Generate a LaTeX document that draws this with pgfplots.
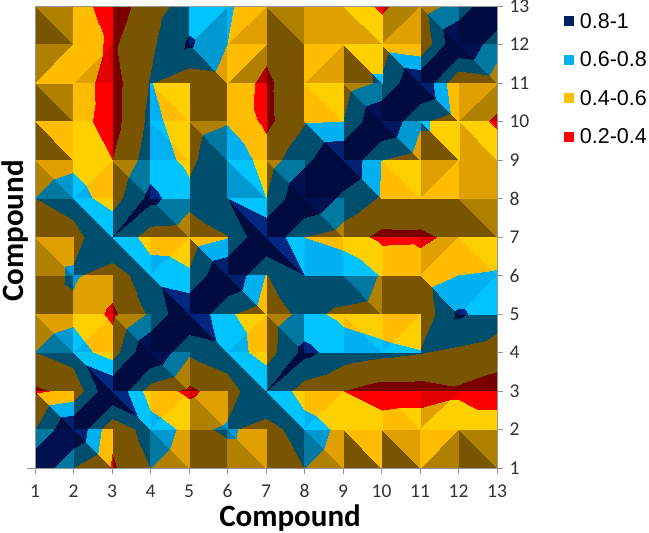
\documentclass[border=0pt]{standalone}
\usepackage{fontspec}
\usepackage{pgfplots}
\pgfplotsset{compat=1.18}
\setmainfont{Carlito}
\newfontfamily\arialf{Liberation Sans}
% ---- similarity matrix: \zrow{row}{values for compound 1..13}
\newcount\ci \newcount\cj
\def\zrow#1#2{\ci=0 \pgfplotsforeachungrouped \v in {#2}{\global\advance\ci 1 \expandafter\xdef\csname z\the\ci-#1\endcsname{\v}}}
\zrow{1}{1,.6,.37,.6,.5,.5,.5,.6,.5,.5,.5,.5,.5}
\zrow{2}{.6,1,.45,.7,.55,.63,.52,.7,.55,.48,.5,.5,.5}
\zrow{3}{.37,.45,1,.5,.36,.5,.8,.5,.4,.32,.32,.37,.3}
\zrow{4}{.6,.7,.5,1,.63,.72,.5,.86,.7,.65,.61,.56,.5}
\zrow{5}{.5,.55,.36,.63,1,.63,.48,.66,.55,.5,.45,.83,.7}
\zrow{6}{.5,.63,.5,.72,.63,1,.59,.8,.79,.58,.5,.6,.62}
\zrow{7}{.5,.52,.8,.5,.48,.59,1,.6,.5,.35,.36,.45,.5}
\zrow{8}{.6,.7,.5,.86,.66,.8,.6,1,.75,.58,.55,.5,.5}
\zrow{9}{.5,.55,.4,.7,.55,.79,.5,.75,1,.6,.5,.5,.5}
\zrow{10}{.5,.48,.32,.65,.5,.58,.35,.58,.6,1,.63,.5,.37}
\zrow{11}{.5,.5,.32,.61,.45,.5,.36,.55,.5,.63,1,.42,.5}
\zrow{12}{.5,.5,.37,.56,.83,.6,.45,.5,.5,.5,.42,1,.68}
\zrow{13}{.5,.5,.3,.5,.7,.62,.5,.5,.5,.37,.5,.68,1}
% ---- facets: each cell = split (0 "\" LL,UR ; 1 "/" UL,LR) and two shade levels 0..4
\expandafter\def\csname L0\endcsname{}\expandafter\def\csname L1\endcsname{}\expandafter\def\csname L2\endcsname{}\expandafter\def\csname L3\endcsname{}\expandafter\def\csname L4\endcsname{}
\def\tri#1#2#3#4#5#6#7{\expandafter\xdef\csname L#1\endcsname{\csname L#1\endcsname
 (#2,#3) [\csname z#2-#3\endcsname] (#4,#5) [\csname z#4-#5\endcsname] (#6,#7) [\csname z#6-#7\endcsname] }}
\def\cell#1#2#3{\edef\xa{\the\ci}\edef\xb{\the\numexpr\ci+1\relax}\edef\ya{\the\cj}\edef\yb{\the\numexpr\cj+1\relax}%
 \ifnum#1=0
  \tri{#2}\xa\ya\xb\ya\xa\yb
  \tri{#3}\xb\yb\xb\ya\xa\yb
 \else
  \tri{#2}\xa\ya\xb\yb\xa\yb
  \tri{#3}\xa\ya\xb\ya\xb\yb
 \fi
 \global\advance\ci 1 }
\def\srow#1#2{\cj=#1 \ci=1 \srowi #2\relax}
\def\srowi#1{\ifx#1\relax\else\expandafter\srowii\expandafter#1\fi}
\def\srowii#1#2#3{\cell{#1}{#2}{#3}\srowi}
\srow{12}{001 033 000 000 142 132 001 022 024 112 001 100}
\srow{11}{113 132 000 100 002 131 000 132 004 003 100 001}
\srow{10}{001 033 000 034 000 033 000 034 001 100 003 121}
\srow{9}{003 044 000 034 001 133 000 003 100 002 004 024}
\srow{8}{012 143 001 144 100 024 001 100 003 034 123 122}
\srow{7}{000 004 100 001 100 004 100 001 000 000 000 001}
\srow{6}{012 100 004 134 003 100 004 033 144 133 123 034}
\srow{5}{100 022 000 004 100 003 100 000 001 000 003 134}
\srow{4}{012 143 001 100 004 143 001 144 034 134 100 000}
\srow{3}{000 004 100 001 000 004 100 000 000 000 000 000}
\srow{2}{003 100 004 134 012 100 004 134 044 034 124 144}
\srow{1}{111 003 100 012 000 012 000 012 003 002 131 001}
\def\shadeplot#1{\edef\temp{\noexpand\addplot[patch,patch type=triangle,shader=interp,colormap access=piecewise constant,colormap name=s#1,point meta=explicit,point meta min=0.2,point meta max=1,forget plot] coordinates {\csname L#1\endcsname};}\temp}
\pgfplotsset{
 colormap={s0}{rgb255=(122,0,0) rgb255=(122,85,0) rgb255=(0,78,110) rgb255=(0,11,64)},
 colormap={s1}{rgb255=(176,0,0) rgb255=(176,128,0) rgb255=(0,120,160) rgb255=(0,16,80)},
 colormap={s2}{rgb255=(224,0,0) rgb255=(224,160,0) rgb255=(0,152,208) rgb255=(0,24,96)},
 colormap={s3}{rgb255=(255,0,0) rgb255=(255,188,0) rgb255=(0,176,240) rgb255=(0,32,112)},
 colormap={s4}{rgb255=(255,0,0) rgb255=(255,208,0) rgb255=(0,196,255) rgb255=(0,40,128)},
}
\definecolor{axgray}{RGB}{150,150,150}
\definecolor{tlab}{RGB}{50,50,50}
\begin{document}
\begin{tikzpicture}
\path[use as bounding box] (0,0) rectangle (649pt,533pt);
\begin{axis}[
 at={(35pt,65pt)},anchor=south west,
 scale only axis,width=462pt,height=462pt,
 xmin=1,xmax=13,ymin=1,ymax=13,
 xtick={1,...,13},ytick={1,...,13},
 xtick pos=bottom,ytick pos=right,tick align=outside,
 major tick length=6pt,
 axis line style={axgray},tick style={axgray},
 axis on top=true,
 /pgf/number format/assume math mode=true,
 tick label style={font=\fontsize{19.5}{20}\selectfont,text=tlab},
 xticklabel style={yshift=-7pt},
 yticklabel style={xshift=3pt},
 xlabel={Compound},ylabel={Compound},
 label style={font=\fontsize{31}{32}\selectfont\bfseries},
 xlabel style={at={(axis description cs:0.552,-0.109)},anchor=center},
 ylabel style={at={(axis description cs:-0.043,0.513)},anchor=center,rotate=0},
 legend style={at={(axis description cs:1.144,0.987)},anchor=north west,draw=none,fill=none,
   font=\arialf\fontsize{21.5}{23}\selectfont,row sep=20pt,inner sep=0pt,
   nodes={inner sep=1pt,anchor=west}},
 legend cell align=left,
 legend image code/.code={\path[draw=none,fill,#1] (0pt,-5pt) rectangle (10pt,5pt);\path (15pt,0pt);},
]
\shadeplot{0}
\shadeplot{1}
\shadeplot{2}
\shadeplot{3}
\shadeplot{4}
\addlegendimage{fill={rgb,255:red,0;green,32;blue,96}}\addlegendentry{0.8-1}
\addlegendimage{fill={rgb,255:red,0;green,176;blue,240}}\addlegendentry{0.6-0.8}
\addlegendimage{fill={rgb,255:red,255;green,192;blue,0}}\addlegendentry{0.4-0.6}
\addlegendimage{fill={rgb,255:red,255;green,0;blue,0}}\addlegendentry{0.2-0.4}
\end{axis}
\draw[axgray] (27pt,65pt) -- (35pt,65pt);
\end{tikzpicture}
\end{document}
